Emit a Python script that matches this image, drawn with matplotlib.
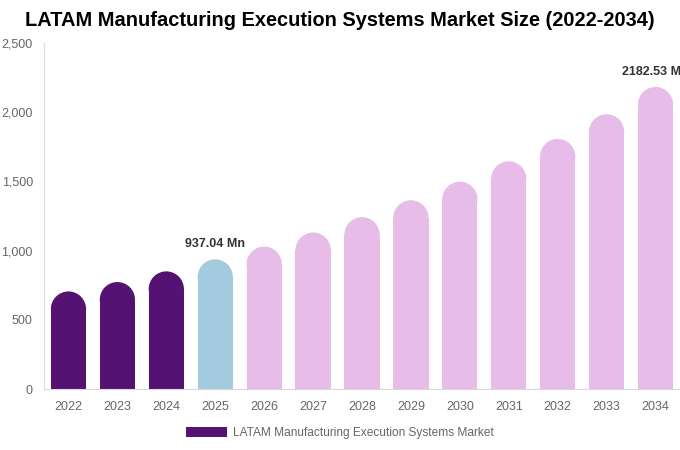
import matplotlib
matplotlib.use("Agg")
import matplotlib.pyplot as plt
from matplotlib.patches import Ellipse, Patch
from matplotlib.ticker import FuncFormatter

plt.rcParams['font.family'] = ['Liberation Sans', 'DejaVu Sans']

years = ["2022", "2023", "2024", "2025", "2026", "2027", "2028",
         "2029", "2030", "2031", "2032", "2033", "2034"]
values = [705, 773, 850, 937.04, 1029, 1131, 1242, 1364, 1498, 1645, 1807, 1985, 2182.53]
colors = ["#541273"] * 3 + ["#a4cadf"] + ["#e7bce9"] * 9
labels = {3: "937.04 Mn", 12: "2182.53 Mn"}
legend_label = "LATAM Manufacturing Execution Systems Market"

W, H = 680, 450
fig = plt.figure(figsize=(W / 100, H / 100), dpi=100)
ax = fig.add_axes([44 / W, (H - 389) / H, (W - 44) / W, (389 - 43) / H])

ax.set_xlim(-0.5, len(years) - 0.5)
ax.set_ylim(0, 2500)

bw = 0.72
# rounded cap: convert bar half-width in px to y data units
ax_w_px = W - 44
ax_h_px = 389 - 43
px_per_x = ax_w_px / len(years)
px_per_y = ax_h_px / 2500
r_y = (bw / 2) * px_per_x / px_per_y

xs = list(range(len(years)))
ax.bar(xs, [v - r_y for v in values], width=bw, color=colors, linewidth=0, zorder=2)
for x, v, c in zip(xs, values, colors):
    ax.add_patch(Ellipse((x, v - r_y), bw, 2 * r_y, facecolor=c, linewidth=0, zorder=2))

for i, txt in labels.items():
    ax.text(xs[i], values[i] + 65, txt, ha="center", va="bottom",
            fontsize=9, fontweight="bold", color="#333333", clip_on=False)

ax.set_xticks(xs)
ax.set_xticklabels(years)
ax.set_yticks(range(0, 2501, 500))
ax.yaxis.set_major_formatter(FuncFormatter(lambda v, p: f"{int(v):,}"))
ax.tick_params(axis="both", length=0, colors="#666666", labelsize=9)
ax.tick_params(axis="x", pad=9)
ax.tick_params(axis="y", pad=8)

for s in ["top", "right"]:
    ax.spines[s].set_visible(False)
ax.spines["left"].set_color("#e0e0e0")
ax.spines["bottom"].set_color("#d9d9d9")

fig.text(0.5, (H - 21) / H, "LATAM Manufacturing Execution Systems Market Size (2022-2034)",
         ha="center", va="center", fontsize=14.4, fontweight="bold", color="black")

fig.legend(handles=[Patch(facecolor="#541273", label=legend_label)],
           loc="center", bbox_to_anchor=(0.5, (H - 433) / H), frameon=False,
           fontsize=8.6, handlelength=3.4, handleheight=0.9, handletextpad=0.5,
           labelcolor="#666666")

fig.savefig("out.png", dpi=100)
